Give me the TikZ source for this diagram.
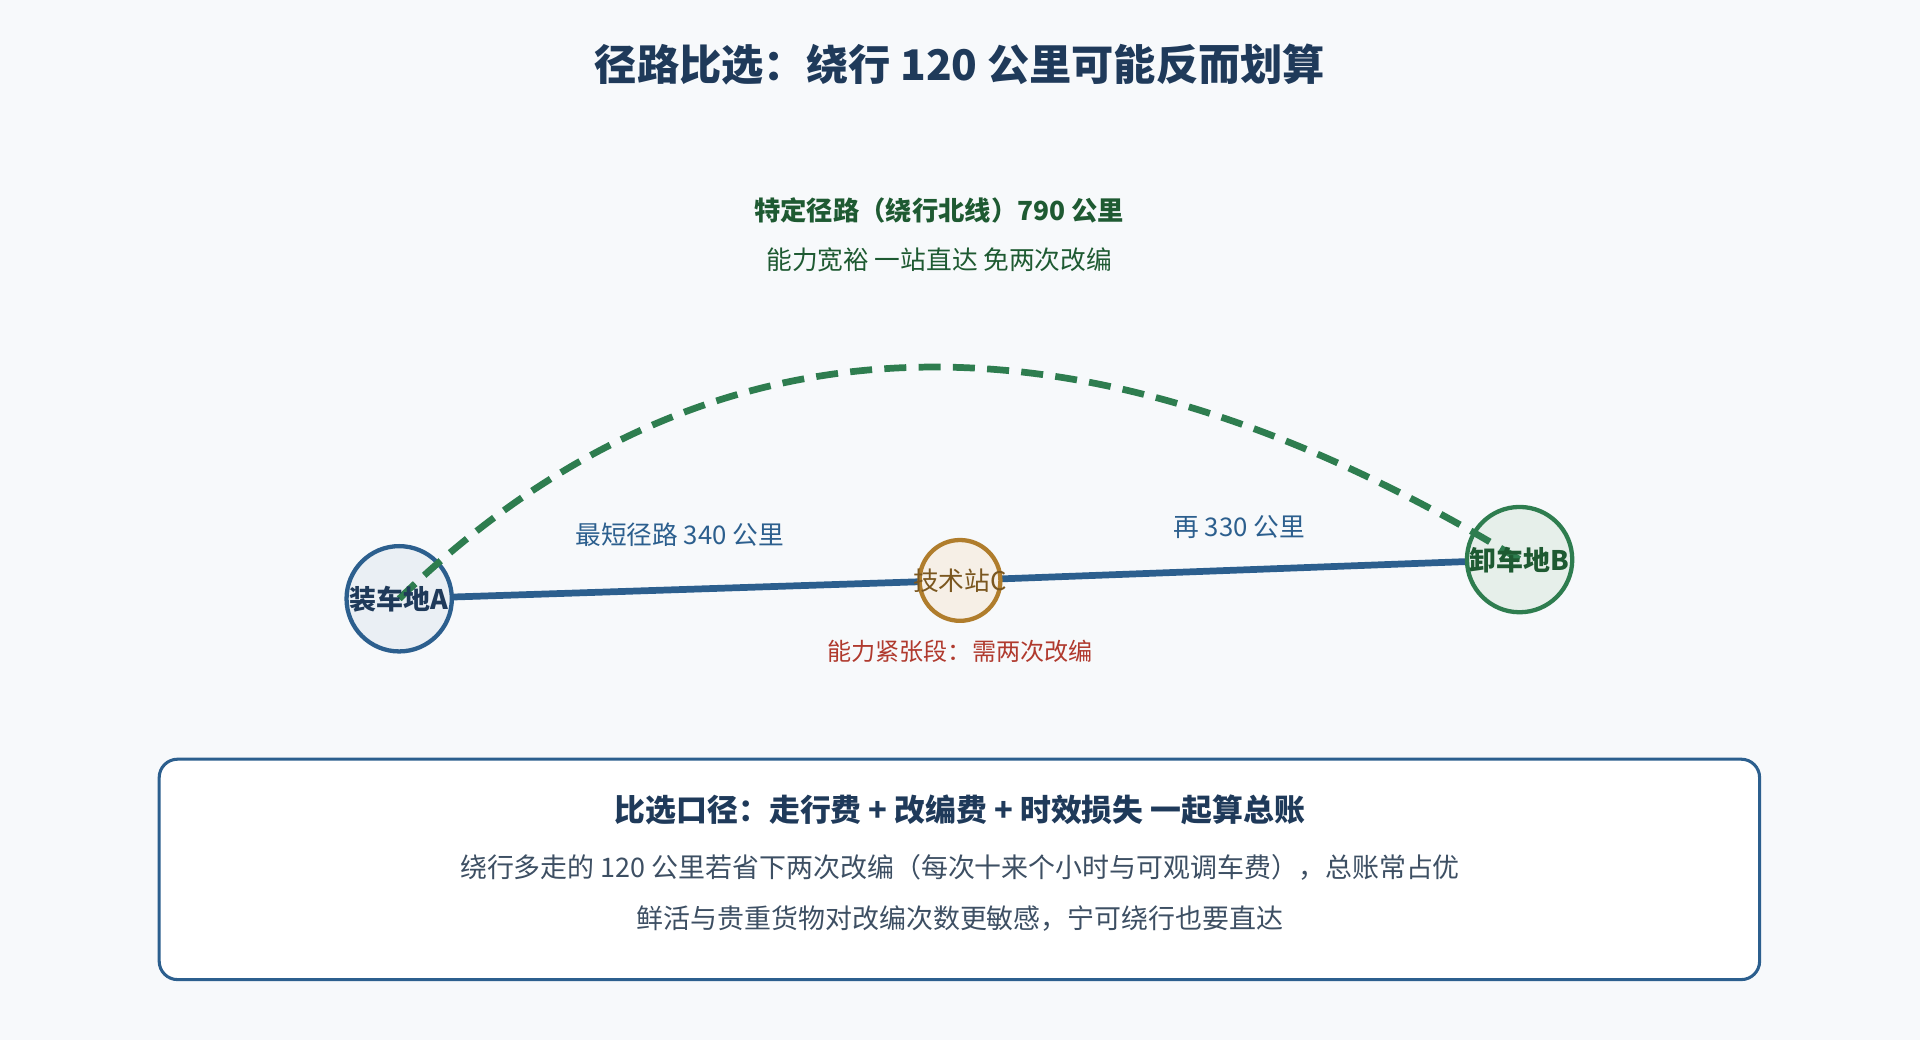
\documentclass[tikz,border=0pt]{standalone}
\usepackage{fontspec}
\setmainfont{Noto Sans CJK SC}
\begin{document}
\begin{tikzpicture}[x=1pt,y=-1pt,
  t/.style={inner sep=0pt,anchor=center},
  stn/.style={circle,line width=3.5pt,inner sep=0pt},
  lbl/.style={t,font=\fontsize{21}{24}\selectfont}]
\definecolor{bg}{HTML}{F7F9FB}\definecolor{navy}{HTML}{1F3A5A}
\definecolor{blu}{HTML}{2C5F8E}\definecolor{grn}{HTML}{2E7D4F}
\definecolor{dgrn}{HTML}{1E5A32}\definecolor{brn}{HTML}{B07D2C}
\definecolor{rd}{HTML}{B03A2E}\definecolor{gry}{HTML}{3D4F63}
\fill[bg] (0,0) rectangle (1568,849);
\useasboundingbox (0,0) rectangle (1568,849);
\node[t,text=navy,font=\fontsize{34.5}{40}\selectfont\bfseries] (title) at (784,53) {径路比选：绕行 120 公里可能反而划算};
\node[lbl,text=dgrn,font=\fontsize{21.5}{24}\selectfont\bfseries] (g1) at (767,172) {特定径路（绕行北线）790 公里};
\node[lbl,text=dgrn] (g2) at (767,212) {能力宽裕 一站直达 免两次改编};
\coordinate (ca) at (326,489);\coordinate (cb) at (1241,457);
\draw[blu,line width=5.5pt] (ca) -- (784,474) -- (cb);
\node[stn,draw=blu,fill=blu!10,minimum size=86pt] (A) at (ca) {};
\node[stn,draw=brn,fill=brn!12,minimum size=66pt] (C) at (784,474) {};
\node[stn,draw=grn,fill=grn!12,minimum size=86pt] (B) at (cb) {};
\draw[grn,line width=5.5pt,dash pattern=on 18pt off 10pt] (ca) .. controls (575,248) and (880,237) .. (cb);
\node[lbl,text=navy,font=\fontsize{22}{24}\selectfont\bfseries] at (A) {装车地A};
\node[lbl,text=brn!70!black] at (C) {技术站C};
\node[lbl,text=dgrn,font=\fontsize{22}{24}\selectfont\bfseries] at (B) {卸车地B};
\node[lbl,text=blu] (l1) at (555,437) {最短径路 340 公里};
\node[lbl,text=blu] (l2) at (1012,430) {再 330 公里};
\node[lbl,text=rd,font=\fontsize{19.7}{22}\selectfont] (l3) at (784,532) {能力紧张段：需两次改编};
\draw[blu,line width=2.5pt,fill=white,rounded corners=15pt] (130,620) rectangle (1437,800);
\node[t,text=navy,font=\fontsize{25.2}{28}\selectfont\bfseries] (b1) at (784,661) {比选口径：走行费 + 改编费 + 时效损失 一起算总账};
\node[lbl,text=gry,font=\fontsize{22}{26}\selectfont] (b2) at (784,708) {绕行多走的 120 公里若省下两次改编（每次十来个小时与可观调车费），总账常占优};
\node[lbl,text=gry,font=\fontsize{22}{26}\selectfont] (b3) at (784,750) {鲜活与贵重货物对改编次数更敏感，宁可绕行也要直达};
\end{tikzpicture}
\end{document}
